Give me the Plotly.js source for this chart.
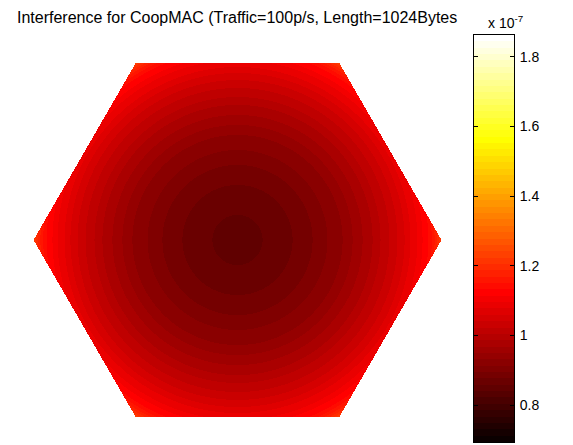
<!DOCTYPE html>
<html>
<head>
<meta charset="utf-8">
<script src="https://cdn.plot.ly/plotly-3.0.1.min.js"></script>
<style>html,body{margin:0;padding:0;background:#fff;}#chart{width:573px;height:445px;}</style>
</head>
<body>
<div id="chart"></div>
<script>
// Radial profile of the interference (units of 1e-7).
// ringOuter: outer radius of each ring as a fraction of the hexagon circumradius.
const ringOuter = [0.123, 0.270, 0.368, 0.441, 0.515, 0.564, 0.613, 0.662, 0.701, 0.745,
                   0.784, 0.819, 0.848, 0.882, 0.907, 0.935, 0.952, 0.966, 0.978, 0.988,
                   0.996, 1.010];
const ringValue = [0.849, 0.868, 0.886, 0.904, 0.922, 0.941, 0.959, 0.977, 0.995, 1.014,
                   1.032, 1.050, 1.068, 1.087, 1.105, 1.123, 1.141, 1.160, 1.178, 1.196,
                   1.215, 1.233];
const cbMin = 0.694, cbMax = 1.863;
const cbTicks = [0.8, 1.0, 1.2, 1.4, 1.6, 1.8];
const cbTickText = ['0.8', '1', '1.2', '1.4', '1.6', '1.8'];
const titleText = 'Interference for CoopMAC (Traffic=100p/s, Length=1024Bytes';
const expText = 'x 10<sup>-7</sup>';

// MATLAB "hot" colormap, 64 discrete levels
const NL = 64;
function hotColor(i) {
  const r = Math.min(1, (i + 1) / 24);
  const g = Math.max(0, Math.min(1, (i + 1 - 24) / 24));
  const b = Math.max(0, Math.min(1, (i + 1 - 48) / 16));
  return 'rgb(' + Math.round(r * 255) + ',' + Math.round(g * 255) + ',' + Math.round(b * 255) + ')';
}
const hotScale = [];
for (let i = 0; i < NL; i++) {
  const c = hotColor(i);
  hotScale.push([i / NL, c]);
  hotScale.push([(i + 1) / NL, c]);
}

// Field on a grid covering the hexagon (circumradius 1, flat top)
const step = 1 / 204;
const S3 = Math.sqrt(3);
const nx = Math.round(2 / step) + 1;
const ny = Math.round(S3 / step) + 1;
const x0 = -1, y0 = -(ny - 1) * step / 2;
function ringLookup(r) {
  for (let k = 0; k < ringOuter.length; k++) if (r < ringOuter[k]) return ringValue[k];
  return ringValue[ringValue.length - 1];
}
const z = [];
for (let j = 0; j < ny; j++) {
  const y = y0 + j * step;
  const row = [];
  for (let i = 0; i < nx; i++) {
    const x = x0 + i * step;
    const inside = Math.abs(y) <= S3 / 2 + 1e-9 && (S3 * Math.abs(x) + Math.abs(y)) <= S3 + 1e-9;
    row.push(inside ? ringLookup(Math.hypot(x, y)) : null);
  }
  z.push(row);
}

// Colour bar column
const cbY = [], cbZ = [];
for (let i = 0; i < NL; i++) {
  const v = cbMin + (i + 0.5) * (cbMax - cbMin) / NL;
  cbY.push(v);
  cbZ.push([v]);
}

const W = 573, H = 445;
const traces = [
  {
    type: 'heatmap', z: z, x0: x0, dx: step, y0: y0, dy: step,
    colorscale: hotScale, zmin: cbMin, zmax: cbMax, zsmooth: false,
    showscale: false, hoverinfo: 'skip', xaxis: 'x', yaxis: 'y'
  },
  {
    type: 'heatmap', z: cbZ, x: [0], y: cbY,
    colorscale: hotScale, zmin: cbMin, zmax: cbMax, zsmooth: false,
    showscale: false, hoverinfo: 'skip', xaxis: 'x2', yaxis: 'y2'
  }
];

const font = {family: 'Liberation Sans, Arial, sans-serif', size: 14, color: '#000'};
const titleFont = {family: 'Liberation Sans, Arial, sans-serif', size: 16, color: '#000'};
const layout = {
  width: W, height: H,
  margin: {l: 0, r: 0, t: 0, b: 0},
  paper_bgcolor: '#fff', plot_bgcolor: 'rgba(0,0,0,0)',
  showlegend: false,
  font: font,
  xaxis: {domain: [0, 1], range: [-237 / 204, 336 / 204], visible: false, fixedrange: true},
  yaxis: {domain: [0, 1], range: [-205 / 204, 240 / 204], visible: false, fixedrange: true},
  xaxis2: {
    domain: [474 / W, 514 / W], anchor: 'y2', range: [-0.5, 0.5],
    showticklabels: false, ticks: '', showgrid: false, zeroline: false,
    showline: true, mirror: true, linecolor: '#000', linewidth: 1
  },
  yaxis2: {
    domain: [(H - 442) / H, (H - 35) / H], anchor: 'x2', side: 'right',
    range: [cbMin, cbMax], tickvals: cbTicks, ticktext: cbTickText,
    ticks: 'inside', ticklen: 4, tickcolor: '#000', mirror: 'ticks',
    showline: true, linecolor: '#000', linewidth: 1,
    showgrid: false, zeroline: false, tickfont: font, ticklabelstandoff: 2
  },
  annotations: [
    {text: titleText, xref: 'paper', yref: 'paper', x: 237 / W, y: 1 - 17 / H,
     xanchor: 'center', yanchor: 'middle', showarrow: false, font: titleFont},
    {text: expText, xref: 'paper', yref: 'paper', x: 486 / W, y: 1 - 22 / H,
     xanchor: 'left', yanchor: 'middle', showarrow: false, font: font}
  ]
};

Plotly.newPlot('chart', traces, layout, {staticPlot: true, displayModeBar: false});
</script>
</body>
</html>
